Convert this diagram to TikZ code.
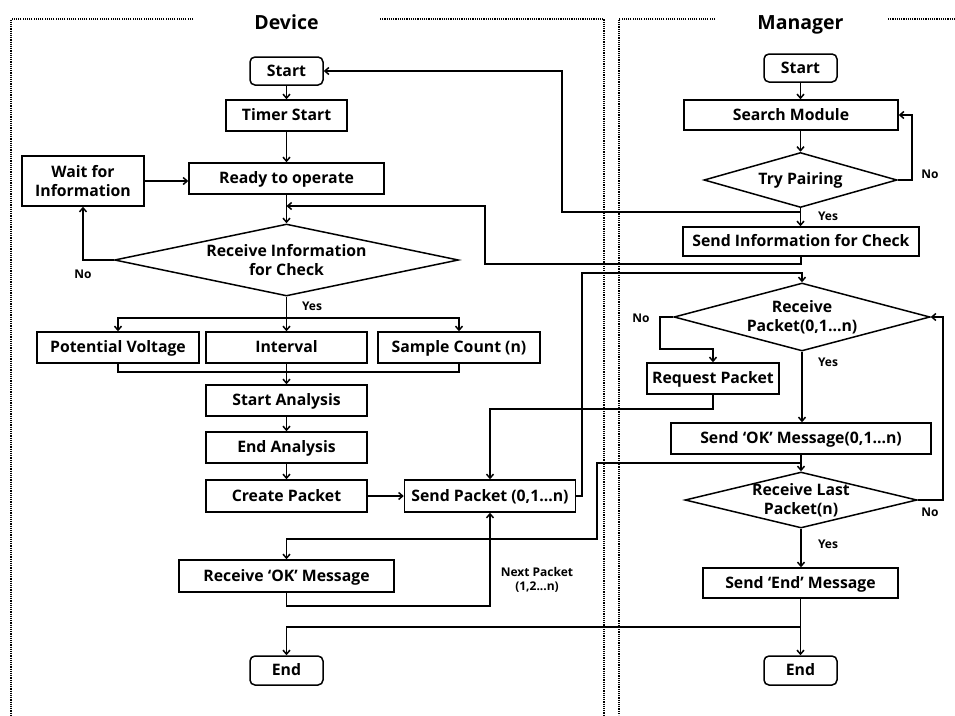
\documentclass[tikz,border=0pt]{standalone}
\usepackage{fontspec}
\setmainfont{Open Sans}
\usetikzlibrary{shapes.geometric,arrows.meta}

\tikzset{
  shp/.style={draw, line width=1.5pt, inner sep=1pt, align=center,
    font=\fontsize{15.8}{19.5}\selectfont\bfseries},
  box/.style={shp, text height=11.5pt, text depth=1.5pt},
  term/.style={box, rounded corners=5pt},
  test/.style={shp, diamond, inner sep=-3pt},
  tag/.style={font=\fontsize{12}{14.5}\selectfont\bfseries, align=center},
  lane/.style={line width=1.6pt, dash pattern=on 1.1pt off 1.1pt},
  title/.style={font=\fontsize{19.5}{22}\selectfont\bfseries, anchor=base}
}

\begin{document}
\begin{tikzpicture}[x=1pt, y=-1pt, line width=1.5pt, >={Straight Barb[length=4pt,width=7pt]}]
  % colonne dei due lati
  \def\colD{286.5}
  \def\colM{800.5}
  \useasboundingbox (0,0) rectangle (955,715);

  % --- Cornici tratteggiate ---
  \draw[lane] (193,19) -| (11,715);
  \draw[lane] (380,19) -| (604,715);
  \draw[lane] (715,19) -| (619,715);
  \draw[lane] (888,19) -- (955,19);
  \node[title] (devtitle) at (\colD,29) {Device};
  \node[title] (mantitle) at (\colM,29) {Manager};

  % --- Device ---
  \node[term, minimum width=73pt, minimum height=28pt] (dstart) at (\colD,71) {Start};
  \node[box, minimum width=121pt, minimum height=31pt] (timer) at (\colD,115.5) {Timer Start};
  \node[box, minimum width=195pt, minimum height=31pt] (ready) at (\colD,178.5) {Ready to operate};
  \node[shp, minimum width=122pt, minimum height=50pt] (wait) at (83,181) {Wait for\\Information};
  \node[test, minimum width=344pt, minimum height=72pt, aspect=4.8] (recvinfo) at (\colD,260) {Receive Information\\for Check};
  \node[box, minimum width=162pt, minimum height=31pt] (volt) at (118,347.5) {Potential Voltage};
  \node[box, minimum width=161pt, minimum height=31pt] (interval) at (\colD,347.5) {Interval};
  \node[box, minimum width=162pt, minimum height=31pt] (count) at (459,347.5) {Sample Count (n)};
  \node[box, minimum width=161pt, minimum height=31pt] (startan) at (\colD,400.5) {Start Analysis};
  \node[box, minimum width=161pt, minimum height=31pt] (endan) at (\colD,447.5) {End Analysis};
  \node[box, minimum width=161pt, minimum height=32pt] (create) at (\colD,496) {Create Packet};
  \node[box, minimum width=171pt, minimum height=32pt] (send) at (490,496) {Send Packet (0,1...n)};
  \node[box, minimum width=215pt, minimum height=32pt] (recvok) at (\colD,576) {Receive ‘OK’ Message};
  \node[term, minimum width=73pt, minimum height=29pt] (dend) at (\colD,670.5) {End};

  % --- Manager ---
  \node[term, minimum width=73pt, minimum height=28pt] (mstart) at (\colM,68) {Start};
  \node[box, minimum width=214pt, minimum height=30pt] (search) at (791,115) {Search Module};
  \node[test, minimum width=193pt, minimum height=55pt, aspect=3.5] (pair) at (\colM,180) {Try Pairing};
  \node[box, minimum width=236pt, minimum height=29pt] (sendinfo) at (801,241.5) {Send Information for Check};
  \node[test, minimum width=256pt, minimum height=68pt, aspect=3.8] (recvpkt) at (802,317) {Receive\\Packet(0,1...n)};
  \node[box, minimum width=132pt, minimum height=31pt] (reqpkt) at (713,378.5) {Request Packet};
  \node[box, minimum width=260pt, minimum height=31pt] (sendok) at (801,438.5) {Send ‘OK’ Message(0,1...n)};
  \node[test, minimum width=232pt, minimum height=56pt, aspect=4.1] (lastpkt) at (801,500) {Receive Last\\Packet(n)};
  \node[box, minimum width=195pt, minimum height=30pt] (sendend) at (\colM,583) {Send ‘End’ Message};
  \node[term, minimum width=73pt, minimum height=29pt] (mend) at (\colM,670.5) {End};

  % --- Etichette ---
  \node[tag] (no1) at (83,274) {No};
  \node[tag] (yes1) at (312,306) {Yes};
  \node[tag] (no2) at (930,174) {No};
  \node[tag] (yes2) at (828,216) {Yes};
  \node[tag] (no3) at (641,318) {No};
  \node[tag] (yes3) at (828,362) {Yes};
  \node[tag] (no4) at (930,512) {No};
  \node[tag] (yes4) at (828,544) {Yes};
  \node[tag] (nextlbl) at (537,580) {Next Packet\\(1,2...n)};

  % punti di appoggio
  \coordinate (split) at (\colD,318);
  \coordinate (join) at (\colD,372);
  \coordinate (rin) at (\colD,206);
  \coordinate (c1) at (582,273);
  \coordinate (c2) at (562,212);
  \coordinate (c3) at (485,264);
  \coordinate (c5) at (660,349);
  \coordinate (c7) at (597,463);
  \coordinate (c8) at (597,539);
  \coordinate (c9) at (\colM,627);

  % --- Frecce Device ---
  \draw[->] (dstart) -- (timer);
  \draw[->] (timer) -- (ready);
  \draw[->] (wait.east) -- (wait.east -| ready.west);
  \draw[->] (ready) -- (recvinfo.north);
  \draw[->] (recvinfo.west) -| (wait.south);
  \draw[->] (recvinfo.south) -- (interval.north);
  \draw[->] (split) -| (volt.north);
  \draw[->] (split) -| (count.north);
  \draw (volt.south) |- (join);
  \draw (count.south) |- (join);
  \draw[->] (interval.south) -- (startan.north);
  \draw[->] (startan) -- (endan);
  \draw[->] (endan) -- (create);
  \draw[->] (create) -- (send);
  \draw[->] (send.east) -| (c1) -| (recvpkt.north);
  \draw[->] (recvok.south) -- ++(0,13) -| (send.south);

  % --- Frecce Manager ---
  \draw[->] (mstart) -- (mstart.south |- search.north);
  \draw[->] (pair.north |- search.south) -- (pair.north);
  \draw[->] (pair.east) -- ++(14,0) |- (search.east);
  \draw[->] (pair.south) -- (pair.south |- sendinfo.north);
  \draw[->] (pair.south |- c2) -- (c2) |- (dstart.east);
  \draw[->] (sendinfo.south) |- (c3) |- (rin);
  \draw[->] (recvpkt.west) -| (c5) -| (reqpkt.north);
  \draw[->] (reqpkt.south) -- ++(0,14) -| (send.north);
  \draw[->] (recvpkt.south) -- (recvpkt.south |- sendok.north);
  \draw[->] (sendok.south) -- (lastpkt.north);
  \draw[->] (sendok.south |- c7) -- (c7) -- (c8) -| (recvok.north);
  \draw[->] (lastpkt.east) -- ++(25,0) |- (recvpkt.east);
  \draw[->] (lastpkt.south) -- (lastpkt.south |- sendend.north);
  \draw[->] (sendend.south) -- (mend.north);
  \draw[->] (c9) -| (dend.north);
\end{tikzpicture}
\end{document}
